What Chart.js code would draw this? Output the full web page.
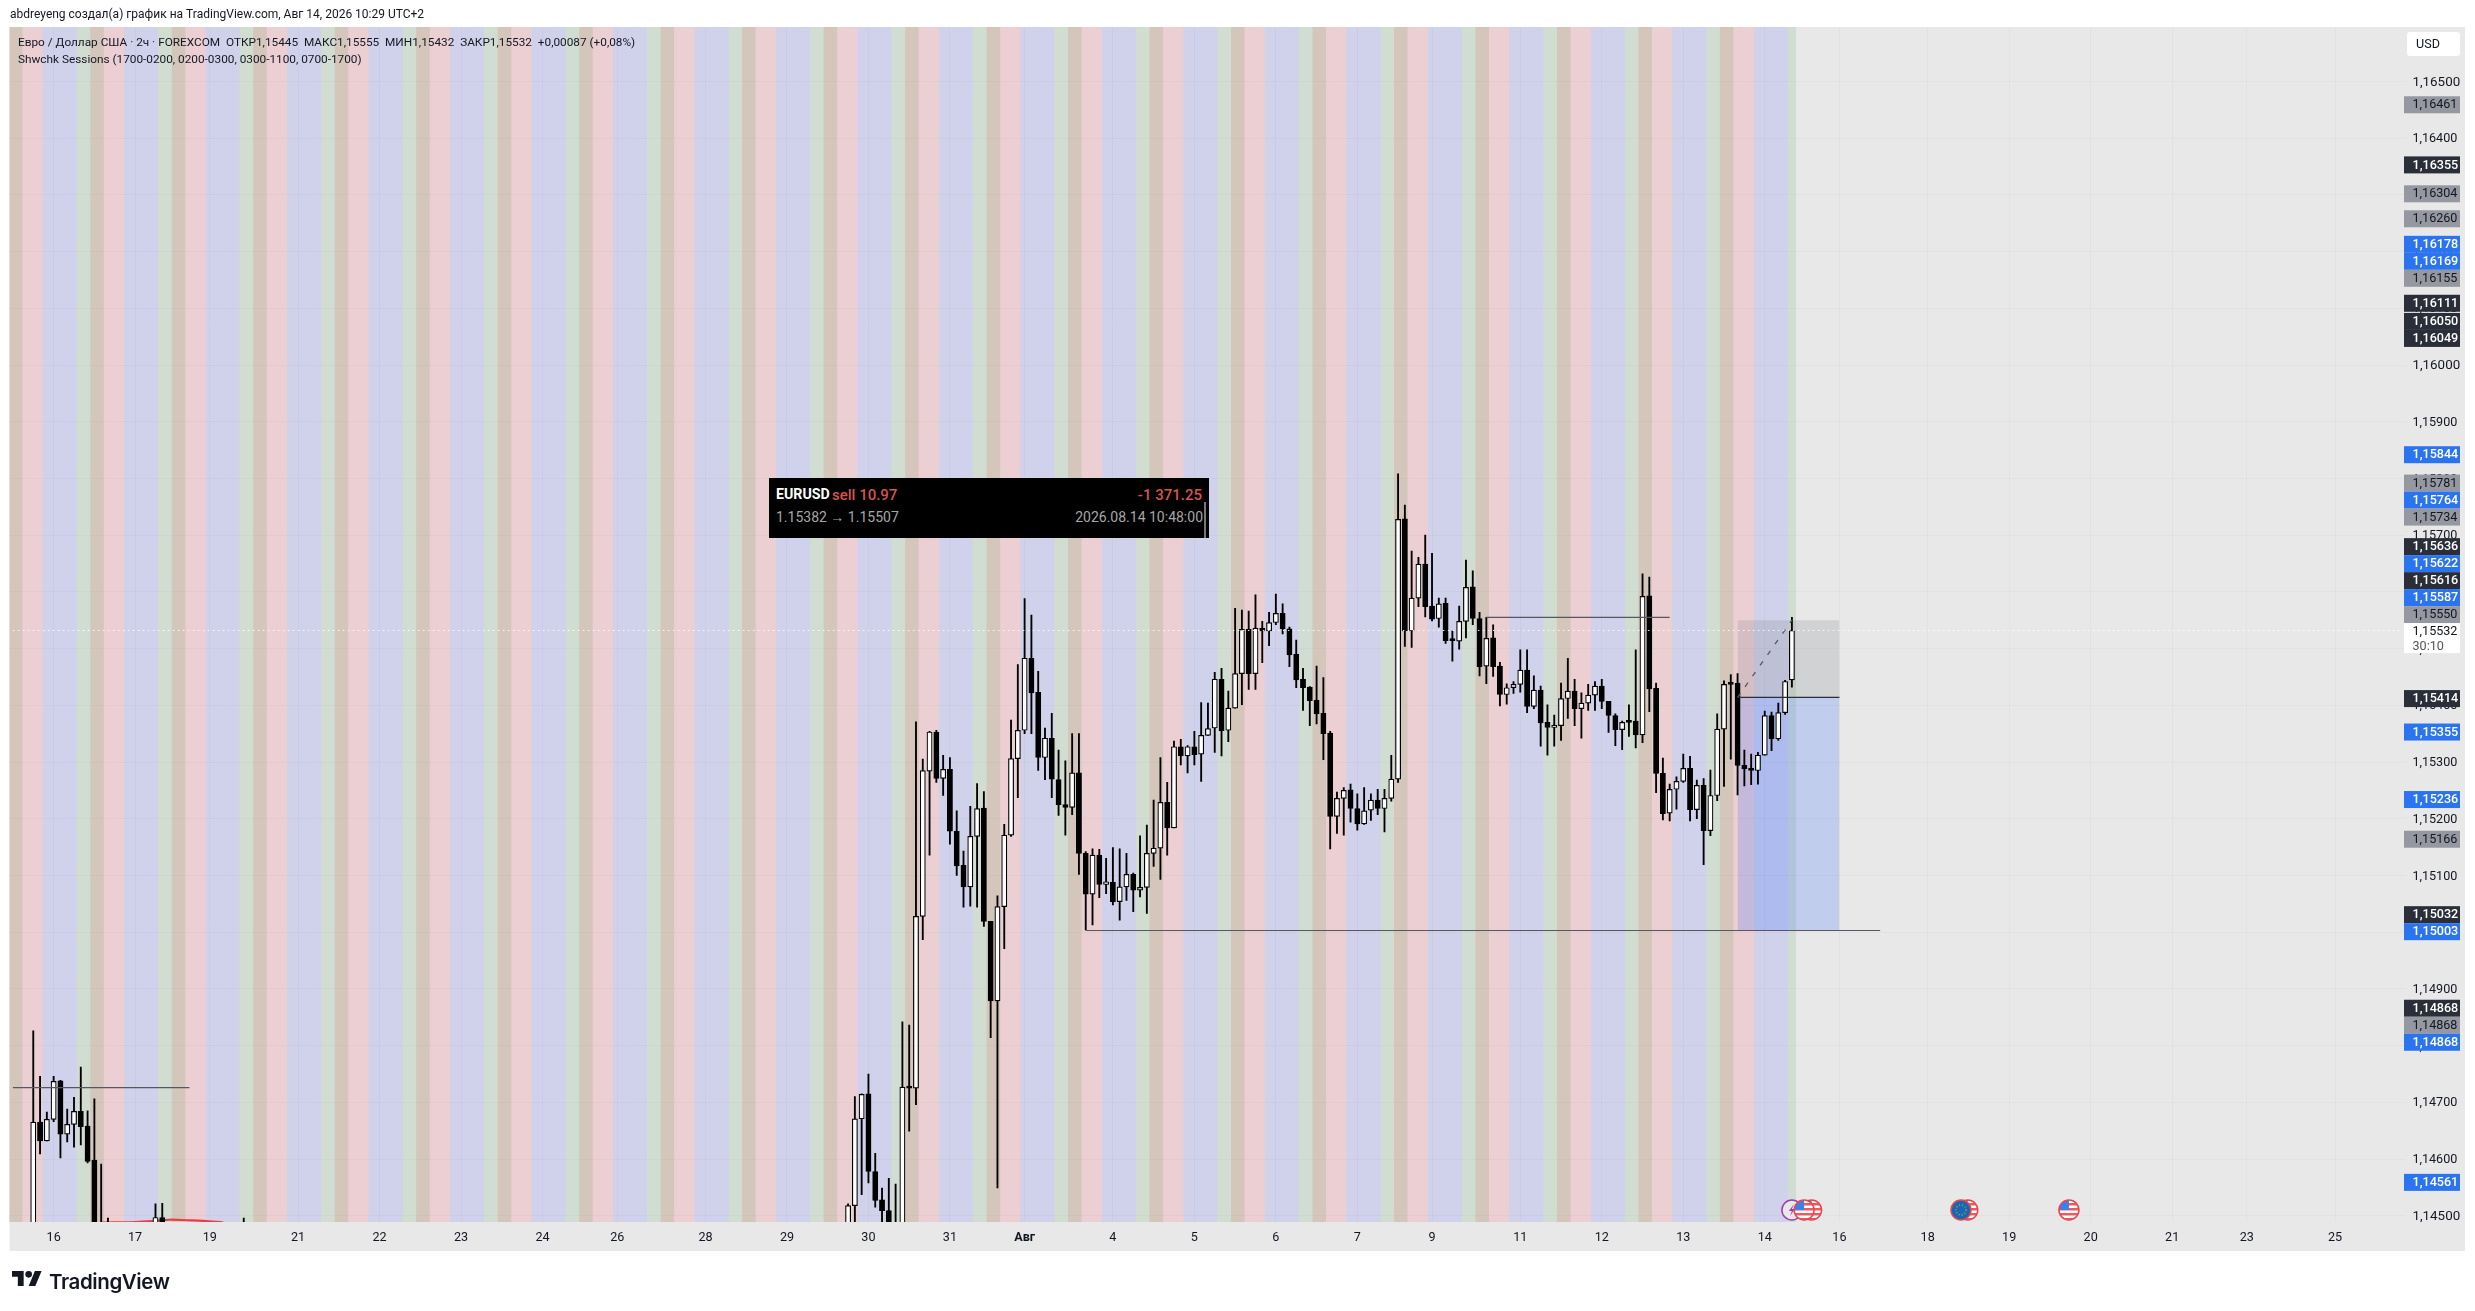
<!DOCTYPE html>
<html>
<head>
<meta charset="utf-8">
<title>EURUSD</title>
<script src="https://cdn.jsdelivr.net/npm/chart.js"></script>
<style>
    html, body { margin: 0; padding: 0; background: #fff; width: 2475px; height: 1311px; overflow: hidden; font-family: Roboto, sans-serif; }
    canvas { position: absolute; left: 0; top: 0; }
    .txt { position: absolute; white-space: nowrap; color: #131722; }
    #trade { position: absolute; left: 769px; top: 478px; width: 440px; height: 60px; background: #000; }
    #trade span { position: absolute; white-space: nowrap; }
    #scroll { position: absolute; left: 435px; top: 24px; width: 2px; height: 36px; background: #777; }
    #logo { position: absolute; left: 12px; top: 1271px; }
</style>
</head>
<body>
<canvas id="chart" width="2475" height="1311"></canvas>
<div class="txt" style="left:10px;top:7px;font-size:12px">abdreyeng создал(а) график на TradingView.com, Авг 14, 2026 10:29 UTC+2</div>
<div class="txt" style="left:18px;top:35px;font-size:11.8px">Евро / Доллар США · 2ч · FOREXCOM&nbsp; ОТКР1,15445&nbsp; МАКС1,15555&nbsp; МИН1,15432&nbsp; ЗАКР1,15532&nbsp; +0,00087 (+0,08%)</div>
<div class="txt" style="left:18px;top:52px;font-size:11.8px">Shwchk Sessions (1700-0200, 0200-0300, 0300-1100, 0700-1700)</div>
<div id="trade">
    <span style="left:7px;top:8px;font-size:14.2px;font-weight:700;color:#fff">EURUSD</span>
    <span style="left:63px;top:8px;font-size:15px;font-weight:500;color:#d9534f">sell 10.97</span>
    <span style="right:7px;top:8px;font-size:15px;font-weight:500;color:#d9534f">-1 371.25</span>
    <span style="left:7px;top:31px;font-size:14px;color:#a6a6a6">1.15382 → 1.15507</span>
    <span style="right:6px;top:31px;font-size:14px;color:#a6a6a6">2026.08.14 10:48:00</span>
    <div id="scroll"></div>
</div>
<svg id="logo" width="30" height="20" viewBox="0 4 36 24"><path fill="#131722" d="M14 22H7V11H0V4h14v18zM28 22h-8l7.5-18h8L28 22z"/><circle fill="#131722" cx="20" cy="8" r="4"/></svg>
<div class="txt" style="left:49px;top:1269px;font-family:Inter;font-size:20.5px;font-weight:600;letter-spacing:-.4px">TradingView</div>

<script>
// 2h bars that fall inside the visible price range (bar 262 is the live one)
const barIndex = [
    3, 4, 5, 6, 7, 8, 9, 10, 11, 12, 13, 14, 21, 22, 34,
    123, 124, 125, 126, 127, 128, 129, 130, 131, 132, 133, 134, 135, 136, 137, 138, 139, 140, 141, 142,
    143, 144, 145, 146, 147, 148, 149, 150, 151, 152, 153, 154, 155, 156, 157, 158, 159, 160, 161, 162,
    163, 164, 165, 166, 167, 168, 169, 170, 171, 172, 173, 174, 175, 176, 177, 178, 179, 180, 181, 182,
    183, 184, 185, 186, 187, 188, 189, 190, 191, 192, 193, 194, 195, 196, 197, 198, 199, 200, 201, 202,
    203, 204, 205, 206, 207, 208, 209, 210, 211, 212, 213, 214, 215, 216, 217, 218, 219, 220, 221, 222,
    223, 224, 225, 226, 227, 228, 229, 230, 231, 232, 233, 234, 235, 236, 237, 238, 239, 240, 241, 242,
    243, 244, 245, 246, 247, 248, 249, 250, 251, 252, 253, 254, 255, 256, 257, 258, 259, 260, 261, 262
];
const opens = [
    1.14440, 1.14665, 1.14632, 1.14670, 1.14738, 1.14644, 1.14661, 1.14684, 1.14658, 1.14598, 1.14470, 1.14470, 1.14470, 1.14497, 1.14460,
    1.14470, 1.14518, 1.14671, 1.14715, 1.14578, 1.14528, 1.14509, 1.14470, 1.14440, 1.14727, 1.14725, 1.15028, 1.15284, 1.15353, 1.15271, 1.15287, 1.15178, 1.15118, 1.15080, 1.15169,
    1.15219, 1.15019, 1.14879, 1.15045, 1.15171, 1.15306, 1.15356, 1.15483, 1.15423, 1.15308, 1.15342, 1.15269, 1.15225, 1.15220, 1.15281, 1.15139, 1.15067, 1.15136, 1.15084, 1.15088,
    1.15054, 1.15080, 1.15102, 1.15074, 1.15079, 1.15139, 1.15148, 1.15229, 1.15184, 1.15327, 1.15311, 1.15327, 1.15314, 1.15347, 1.15360, 1.15446, 1.15356, 1.15395, 1.15456, 1.15534,
    1.15456, 1.15536, 1.15531, 1.15546, 1.15562, 1.15535, 1.15490, 1.15446, 1.15432, 1.15409, 1.15386, 1.15351, 1.15204, 1.15236, 1.15251, 1.15218, 1.15191, 1.15215, 1.15233, 1.15218,
    1.15236, 1.15270, 1.15729, 1.15531, 1.15589, 1.15649, 1.15575, 1.15553, 1.15580, 1.15515, 1.15513, 1.15548, 1.15609, 1.15553, 1.15469, 1.15519, 1.15469, 1.15419, 1.15431, 1.15437,
    1.15462, 1.15398, 1.15427, 1.15370, 1.15361, 1.15364, 1.15412, 1.15425, 1.15394, 1.15404, 1.15418, 1.15434, 1.15407, 1.15382, 1.15357, 1.15371, 1.15372, 1.15348, 1.15593, 1.15430,
    1.15280, 1.15210, 1.15252, 1.15266, 1.15289, 1.15216, 1.15259, 1.15179, 1.15241, 1.15358, 1.15438, 1.15439, 1.15294, 1.15289, 1.15285, 1.15312, 1.15382, 1.15341, 1.15387, 1.15445
];
const highs = [
    1.14826, 1.14746, 1.14683, 1.14746, 1.14739, 1.14688, 1.14709, 1.14762, 1.14685, 1.14706, 1.14591, 1.14496, 1.14521, 1.14522, 1.14496,
    1.14521, 1.14710, 1.14715, 1.14750, 1.14610, 1.14549, 1.14566, 1.14556, 1.14842, 1.14836, 1.15371, 1.15305, 1.15354, 1.15356, 1.15312, 1.15308, 1.15214, 1.15143, 1.15222, 1.15262,
    1.15248, 1.15019, 1.15064, 1.15190, 1.15374, 1.15472, 1.15588, 1.15559, 1.15460, 1.15360, 1.15386, 1.15321, 1.15302, 1.15350, 1.15350, 1.15142, 1.15147, 1.15146, 1.15130, 1.15149,
    1.15147, 1.15139, 1.15104, 1.15170, 1.15189, 1.15233, 1.15308, 1.15264, 1.15337, 1.15340, 1.15329, 1.15354, 1.15405, 1.15404, 1.15458, 1.15465, 1.15425, 1.15571, 1.15568, 1.15566,
    1.15595, 1.15548, 1.15564, 1.15596, 1.15579, 1.15538, 1.15515, 1.15465, 1.15433, 1.15469, 1.15449, 1.15354, 1.15247, 1.15255, 1.15261, 1.15244, 1.15255, 1.15244, 1.15252, 1.15252,
    1.15312, 1.15808, 1.15753, 1.15672, 1.15661, 1.15700, 1.15668, 1.15589, 1.15589, 1.15531, 1.15575, 1.15656, 1.15637, 1.15564, 1.15555, 1.15542, 1.15476, 1.15438, 1.15442, 1.15498,
    1.15498, 1.15452, 1.15434, 1.15401, 1.15383, 1.15439, 1.15483, 1.15446, 1.15422, 1.15437, 1.15442, 1.15446, 1.15407, 1.15385, 1.15372, 1.15401, 1.15498, 1.15632, 1.15626, 1.15439,
    1.15307, 1.15261, 1.15274, 1.15314, 1.15310, 1.15268, 1.15271, 1.15286, 1.15385, 1.15443, 1.15454, 1.15456, 1.15321, 1.15314, 1.15317, 1.15390, 1.15388, 1.15404, 1.15444, 1.15555
];
const lows = [
    1.14430, 1.14609, 1.14632, 1.14666, 1.14602, 1.14630, 1.14621, 1.14625, 1.14593, 1.14440, 1.14430, 1.14430, 1.14460, 1.14460, 1.14440,
    1.14460, 1.14470, 1.14537, 1.14558, 1.14515, 1.14480, 1.14450, 1.14440, 1.14430, 1.14649, 1.14696, 1.14987, 1.15136, 1.15264, 1.15241, 1.15155, 1.15100, 1.15044, 1.15046, 1.15044,
    1.15010, 1.14814, 1.14549, 1.14971, 1.15169, 1.15237, 1.15350, 1.15350, 1.15285, 1.15269, 1.15237, 1.15206, 1.15171, 1.15207, 1.15102, 1.15004, 1.15013, 1.15061, 1.15068, 1.15048,
    1.15021, 1.15056, 1.15036, 1.15062, 1.15033, 1.15116, 1.15093, 1.15136, 1.15184, 1.15295, 1.15281, 1.15295, 1.15266, 1.15347, 1.15317, 1.15311, 1.15336, 1.15395, 1.15401, 1.15428,
    1.15428, 1.15475, 1.15505, 1.15542, 1.15526, 1.15468, 1.15431, 1.15391, 1.15364, 1.15367, 1.15304, 1.15147, 1.15174, 1.15171, 1.15194, 1.15180, 1.15190, 1.15197, 1.15207, 1.15177,
    1.15231, 1.15264, 1.15504, 1.15502, 1.15574, 1.15556, 1.15549, 1.15538, 1.15509, 1.15478, 1.15499, 1.15519, 1.15542, 1.15452, 1.15438, 1.15451, 1.15399, 1.15402, 1.15421, 1.15423,
    1.15387, 1.15394, 1.15328, 1.15312, 1.15328, 1.15338, 1.15377, 1.15364, 1.15342, 1.15391, 1.15391, 1.15394, 1.15352, 1.15329, 1.15322, 1.15345, 1.15325, 1.15334, 1.15389, 1.15246,
    1.15198, 1.15196, 1.15217, 1.15264, 1.15196, 1.15200, 1.15119, 1.15170, 1.15232, 1.15257, 1.15305, 1.15242, 1.15258, 1.15260, 1.15261, 1.15312, 1.15320, 1.15338, 1.15384, 1.15432
];
const closes = [
    1.14665, 1.14632, 1.14670, 1.14737, 1.14644, 1.14661, 1.14684, 1.14657, 1.14596, 1.14450, 1.14440, 1.14450, 1.14497, 1.14470, 1.14480,
    1.14518, 1.14671, 1.14714, 1.14578, 1.14527, 1.14509, 1.14460, 1.14450, 1.14727, 1.14725, 1.15028, 1.15285, 1.15353, 1.15271, 1.15287, 1.15178, 1.15117, 1.15080, 1.15169, 1.15218,
    1.15019, 1.14879, 1.15045, 1.15171, 1.15306, 1.15356, 1.15483, 1.15422, 1.15308, 1.15342, 1.15270, 1.15225, 1.15220, 1.15281, 1.15139, 1.15067, 1.15136, 1.15084, 1.15089, 1.15054,
    1.15080, 1.15102, 1.15074, 1.15079, 1.15139, 1.15148, 1.15229, 1.15184, 1.15327, 1.15311, 1.15327, 1.15313, 1.15347, 1.15359, 1.15446, 1.15355, 1.15395, 1.15456, 1.15534, 1.15456,
    1.15536, 1.15531, 1.15546, 1.15562, 1.15535, 1.15489, 1.15445, 1.15431, 1.15408, 1.15385, 1.15350, 1.15204, 1.15236, 1.15250, 1.15218, 1.15191, 1.15214, 1.15233, 1.15218, 1.15236,
    1.15270, 1.15728, 1.15531, 1.15589, 1.15649, 1.15574, 1.15552, 1.15579, 1.15514, 1.15514, 1.15548, 1.15608, 1.15553, 1.15468, 1.15518, 1.15468, 1.15419, 1.15431, 1.15437, 1.15462,
    1.15398, 1.15427, 1.15369, 1.15361, 1.15365, 1.15412, 1.15425, 1.15394, 1.15404, 1.15418, 1.15434, 1.15407, 1.15382, 1.15357, 1.15370, 1.15370, 1.15348, 1.15592, 1.15429, 1.15280,
    1.15209, 1.15252, 1.15266, 1.15289, 1.15216, 1.15259, 1.15179, 1.15241, 1.15358, 1.15437, 1.15437, 1.15294, 1.15288, 1.15285, 1.15312, 1.15382, 1.15341, 1.15387, 1.15442, 1.15532
];

// date labels on the time axis
const tickBars = [6, 18, 29, 42, 54, 66, 78, 89, 102, 114, 126, 138, 149, 162, 174, 186, 198, 209, 222, 234, 246, 258, 269, 282, 294, 306, 318, 329, 342];
const tickNames = ['16', '17', '19', '21', '22', '23', '24', '26', '28', '29', '30', '31', 'Авг', '4', '5', '6', '7', '9', '11', '12', '13', '14', '16', '18', '19', '20', '21', '23', '25'];

// price tags on the right scale, top to bottom
const tagPrices = [1.16461, 1.16355, 1.16304, 1.16260, 1.16178, 1.16169, 1.16155, 1.16111, 1.16050, 1.16049, 1.15844, 1.15781, 1.15764, 1.15734, 1.15636, 1.15622, 1.15616, 1.15587, 1.15550, 1.15532, 1.15414, 1.15355, 1.15236, 1.15166, 1.15032, 1.15003, 1.14868, 1.14868, 1.14868, 1.14561];
const tagKinds = ['grey', 'dark', 'grey', 'grey', 'blue', 'blue', 'grey', 'dark', 'dark', 'dark', 'blue', 'grey', 'blue', 'grey', 'dark', 'blue', 'dark', 'blue', 'grey', 'last', 'dark', 'blue', 'blue', 'grey', 'dark', 'blue', 'dark', 'grey', 'blue', 'blue'];
const countdown = '30:10';

// session of each bar within a trading day (12 x 2h)
const sessionDay = ['overlap', 'overlap', 'pink', 'pink', 'pink', 'blue', 'blue', 'blue', 'blue', 'blue', 'green', 'green'];
const lastBar = 262;

// drawings
const lastPrice = 1.15532;
const lowLine = { from: 158, to: 275, price: 1.15003 };
const highLine = { from: 217, to: 244, price: 1.15555 };
const oldLine = { from: 0, to: 26, price: 1.14726 };
const position = { from: 254, to: 269, top: 1.15550, entry: 1.15414, bottom: 1.15003, exitBar: 262 };
const redCurveBars = [13, 18, 21, 23, 26, 28, 31];
const redCurve = [1.14488, 1.14489, 1.14491, 1.14493, 1.14492, 1.14491, 1.14488];

// economic calendar icons under the bars
const eventBars = [262, 264.9, 263.8, 287.9, 286.9, 302.8];
const eventKinds = ['bolt', 'us', 'us', 'us', 'eu', 'us'];

const priceMin = 1.14489;
const priceMax = 1.16596;
const slots = 353;

const sessionColors = { overlap: '#d4c6bb', pink: '#ebcfd2', blue: '#d0d1ea', green: '#d2ddd2' };
const tagStyles = {
    grey: { bg: '#9598a1', fg: '#131722' },
    dark: { bg: '#2a2e39', fg: '#ffffff' },
    blue: { bg: '#2b74f0', fg: '#ffffff' },
    last: { bg: '#ffffff', fg: '#131722' }
};
const allBars = Array.from({ length: slots }, (_, i) => i);
const fmtPrice = v => v.toFixed(5).replace('.', ',');

const flatLine = (l, color, width) => ({
    type: 'line',
    data: [{ x: l.from, y: l.price }, { x: l.to, y: l.price }],
    borderColor: color,
    borderWidth: width,
    pointRadius: 0,
    order: 3
});

function drawCoin(ctx, x, y, kind) {
    const r = 10;
    ctx.save();
    ctx.beginPath();
    ctx.arc(x, y, r, 0, Math.PI * 2);
    ctx.fillStyle = kind === 'bolt' ? '#e8e8e8' : '#fff';
    ctx.fill();
    ctx.clip();
    if (kind === 'us') {
        ctx.fillStyle = '#ef5a60';
        for (let s = -7; s < 9; s += 5) ctx.fillRect(x - r, y + s, r * 2, 2.5);
        ctx.fillStyle = '#3f7fe8';
        ctx.fillRect(x - r, y - r, r, r);
    } else if (kind === 'eu') {
        ctx.fillStyle = '#1b66b3';
        ctx.fillRect(x - r, y - r, r * 2, r * 2);
        ctx.strokeStyle = '#8fb04a';
        ctx.setLineDash([1, 2]);
        ctx.lineWidth = 1.5;
        ctx.beginPath();
        ctx.arc(x, y, 5, 0, Math.PI * 2);
        ctx.stroke();
    } else {
        ctx.fillStyle = '#9c3fb5';
        ctx.beginPath();
        ctx.moveTo(x + 2, y - 6);
        ctx.lineTo(x - 3, y + 1);
        ctx.lineTo(x, y + 1);
        ctx.lineTo(x - 2, y + 6);
        ctx.lineTo(x + 3, y - 1);
        ctx.lineTo(x, y - 1);
        ctx.closePath();
        ctx.fill();
    }
    ctx.restore();
    ctx.beginPath();
    ctx.arc(x, y, r, 0, Math.PI * 2);
    ctx.lineWidth = 1.5;
    ctx.strokeStyle = kind === 'bolt' ? '#9c3fb5' : '#e4474f';
    ctx.stroke();
}

const panelPlugin = {
    id: 'panel',
    beforeDraw(chart) {
        const ctx = chart.ctx;
        ctx.save();
        ctx.fillStyle = '#e8e8e8';
        ctx.fillRect(9.5, 27, 2455.5, 1224);
        ctx.restore();
    },
    afterDraw(chart) {
        const ctx = chart.ctx;
        const x = chart.scales.x;
        const y = chart.scales.y;

        eventBars.forEach((b, i) => drawCoin(ctx, x.getPixelForValue(b), 1210, eventKinds[i]));

        // tags: same price stacks down, the rest get pushed up from the bottom
        const ys = tagPrices.map(p => y.getPixelForValue(p) + 1.2);
        for (let i = 1; i < ys.length; i++) {
            if (tagPrices[i] === tagPrices[i - 1]) ys[i] = ys[i - 1] + 17;
        }
        for (let i = ys.length - 2; i >= 0; i--) {
            if (tagPrices[i] !== tagPrices[i + 1]) ys[i] = Math.min(ys[i], ys[i + 1] - 17);
        }
        ctx.save();
        ctx.textBaseline = 'middle';
        tagPrices.forEach((p, i) => {
            const st = tagStyles[tagKinds[i]];
            const isLast = tagKinds[i] === 'last';
            ctx.fillStyle = st.bg;
            ctx.fillRect(2404, ys[i] - 8.5, 56, isLast ? 30 : 17);
            ctx.fillStyle = st.fg;
            ctx.font = (st.fg === '#ffffff' ? '500 ' : '') + '12.6px Roboto';
            ctx.fillText(fmtPrice(p), 2412.5, ys[i] + 0.5);
            if (isLast) {
                ctx.fillStyle = '#555';
                ctx.fillText(countdown, 2412.5, ys[i] + 15);
            }
        });

        // currency button
        ctx.fillStyle = '#fff';
        ctx.beginPath();
        ctx.roundRect(2407, 32, 53, 24, 3);
        ctx.fill();
        ctx.fillStyle = '#131722';
        ctx.font = '12.6px Roboto';
        ctx.fillText('USD', 2416, 44.5);
        ctx.restore();
    }
};

new Chart(document.getElementById('chart'), {
    type: 'bar',
    plugins: [panelPlugin],
    data: {
        labels: allBars,
        datasets: [
            {
                // session stripes, a bit wider than a slot so no seam shows between bars
                data: allBars.slice(0, lastBar + 1).map(() => [priceMin, priceMax]),
                backgroundColor: allBars.slice(0, lastBar + 1).map(i => sessionColors[sessionDay[i % 12]]),
                barThickness: 7.6,
                grouped: false,
                order: 10
            },
            {
                type: 'line',
                data: [{ x: position.from, y: position.top }, { x: position.to, y: position.top }],
                borderWidth: 0,
                pointRadius: 0,
                fill: { value: position.entry },
                backgroundColor: 'rgba(120,123,134,0.2)',
                order: 9
            },
            {
                type: 'line',
                data: [{ x: position.from, y: position.entry }, { x: position.to, y: position.entry }],
                borderWidth: 0,
                pointRadius: 0,
                fill: { value: position.bottom },
                backgroundColor: 'rgba(41,98,255,0.2)',
                order: 9
            },
            {
                // wicks
                data: barIndex.map((b, i) => ({ x: b, y: [lows[i], highs[i]] })),
                backgroundColor: '#000',
                barThickness: 1.2,
                grouped: false,
                order: 5
            },
            {
                // bodies
                data: barIndex.map((b, i) => ({ x: b, y: [opens[i], closes[i]] })),
                backgroundColor: closes.map((c, i) => (c >= opens[i] ? '#fff' : '#000')),
                borderColor: '#000',
                borderWidth: 1.2,
                borderSkipped: false,
                barThickness: 5.2,
                minBarLength: 2,
                grouped: false,
                order: 4
            },
            flatLine(lowLine, '#55585f', 1.2),
            flatLine(highLine, '#55585f', 1.2),
            flatLine(oldLine, '#55585f', 1.2),
            flatLine({ from: position.from, to: position.to, price: position.entry }, '#2a2e39', 1.4),
            {
                type: 'line',
                data: [{ x: position.from, y: position.entry }, { x: position.exitBar, y: position.top }],
                borderColor: '#55585f',
                borderWidth: 1.3,
                borderDash: [5, 8],
                pointRadius: 0,
                order: 3
            },
            {
                type: 'line',
                data: [{ x: 0, y: lastPrice }, { x: slots - 1, y: lastPrice }],
                borderColor: 'rgba(255,255,255,0.95)',
                borderWidth: 1,
                borderDash: [1.5, 3.5],
                pointRadius: 0,
                order: 2
            },
            {
                type: 'line',
                data: redCurveBars.map((b, i) => ({ x: b, y: redCurve[i] })),
                borderColor: '#ec3a48',
                borderWidth: 2.2,
                tension: 0.4,
                pointRadius: 0,
                order: 6
            }
        ]
    },
    options: {
        responsive: false,
        animation: false,
        devicePixelRatio: 1,
        layout: { padding: { left: 9.5, top: 27, right: 10, bottom: 60 } },
        plugins: { legend: { display: false }, tooltip: { enabled: false } },
        scales: {
            x: {
                offset: true,
                border: { display: false },
                grid: { color: 'rgba(0,0,0,0.025)', offset: false, drawTicks: false, z: 1 },
                afterBuildTicks: axis => { axis.ticks = tickBars.map(v => ({ value: v })); },
                afterFit: axis => { axis.height = 29; },
                ticks: {
                    autoSkip: false,
                    maxRotation: 0,
                    padding: 8,
                    color: '#131722',
                    font: ctx => ({ family: 'Roboto', size: 12.6, weight: ctx.tick && tickNames[tickBars.indexOf(ctx.tick.value)] === 'Авг' ? '700' : '400' }),
                    callback: v => tickNames[tickBars.indexOf(v)]
                }
            },
            y: {
                position: 'right',
                min: priceMin,
                max: priceMax,
                border: { display: false },
                grid: { color: 'rgba(0,0,0,0.025)', drawTicks: false, z: 1 },
                afterFit: axis => { axis.width = 58.6; },
                ticks: {
                    stepSize: 0.001,
                    includeBounds: false,
                    autoSkip: false,
                    crossAlign: 'near',
                    padding: 6,
                    labelOffset: 1,
                    color: '#131722',
                    font: ctx => {
                        const major = ctx.tick && [1.145, 1.165, 1.16].some(m => Math.abs(ctx.tick.value - m) < 1e-6);
                        return { family: 'Roboto', size: major ? 13.4 : 12.6 };
                    },
                    callback: v => fmtPrice(v)
                }
            }
        }
    }
});
</script>
</body>
</html>
